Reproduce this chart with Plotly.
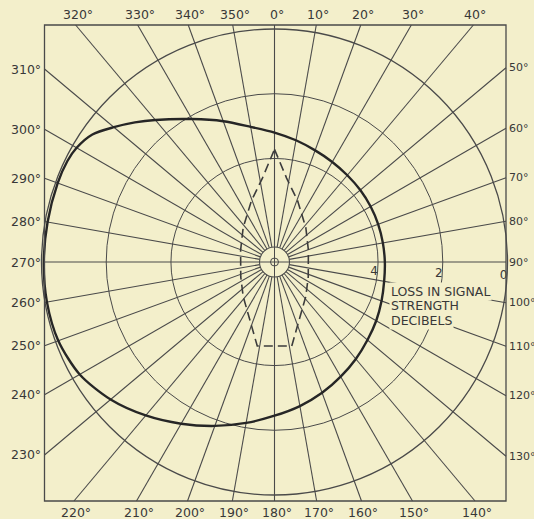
import math
import plotly.graph_objects as go

# ---- chart values -------------------------------------------------------
# spoke bearings, degrees clockwise from north
spoke_bearings = list(range(0, 360, 10))
# loss rings (dB); 0 dB is the outer ring
ring_losses = [4, 2, 0]
# loss that falls on the hub of the chart
centre_loss = 7.2

# measured loss pattern (solid curve)
pattern_bearing = [0, 10, 20, 30, 40, 50, 60, 70, 80, 90, 100, 110, 120, 130,
                   140, 150, 160, 170, 180, 190, 200, 210, 220, 230, 240, 250,
                   260, 270, 280, 290, 296, 300, 305, 310, 315, 320, 330, 340,
                   350, 360]
pattern_loss = [3.20, 3.38, 3.53, 3.63, 3.70, 3.74, 3.77, 3.79, 3.80, 3.79,
                3.76, 3.68, 3.57, 3.45, 3.29, 3.11, 2.90, 2.68, 2.45, 2.15,
                1.81, 1.43, 1.01, 0.59, 0.25, 0.09, 0.06, 0.07, 0.08, 0.07,
                0.08, 0.14, 0.33, 0.72, 1.10, 1.47, 2.10, 2.57, 2.96, 3.20]

# second pattern (dashed outline)
dashed_bearing = [0, 8.2, 20.7, 42.2, 70.6, 113.8, 137.8, 168.4, 191.6,
                  222.2, 246.2, 289.4, 317.8, 339.3, 351.8, 360]
dashed_loss = [3.72, 4.58, 5.18, 5.76, 6.09, 6.06, 5.76, 4.55, 4.55, 5.76,
               6.06, 6.09, 5.76, 5.18, 4.58, 3.72]

caption_lines = ["LOSS IN SIGNAL", "STRENGTH", "DECIBELS"]

# ---- page geometry (pixels) ---------------------------------------------
W, H = 534, 519
CX, CY = 274.5, 262.0          # hub, measured from the top-left corner
R = 233.0                      # radius of the 0 dB ring
HUB_R = 15.0                   # small ring round the hub
DOT_R = 4.0
LEFT, RIGHT, TOP, BOTTOM = -230.0, 231.5, 237.0, -239.0   # frame edges

PAPER = "#f3efcb"
INK = "#383838"
GRID = "#4a4a4a"
FONT = "DejaVu Sans"

fig = go.Figure()

# spokes run from the hub ring out to the frame
sx, sy, labels = [], [], []
for b in spoke_bearings:
    dx, dy = math.sin(math.radians(b)), math.cos(math.radians(b))
    if abs(dx) < 1e-9:
        dx = 0.0
    if abs(dy) < 1e-9:
        dy = 0.0
    cands = []
    if dx > 0:
        cands.append((RIGHT / dx, "right"))
    if dx < 0:
        cands.append((LEFT / dx, "left"))
    if dy > 0:
        cands.append((TOP / dy, "top"))
    if dy < 0:
        cands.append((BOTTOM / dy, "bottom"))
    t, edge = min(cands)
    r0 = 0.0 if b % 90 == 0 else HUB_R
    sx += [r0 * dx, t * dx, None]
    sy += [r0 * dy, t * dy, None]
    labels.append((b, edge, t * dx, t * dy))

fig.add_trace(go.Scatter(x=sx, y=sy, mode="lines",
                         line=dict(color=GRID, width=1.1),
                         hoverinfo="skip", showlegend=False))

# frame
fig.add_shape(type="rect", x0=LEFT, x1=RIGHT, y0=BOTTOM, y1=TOP,
              line=dict(color=GRID, width=1.3), layer="above")
# hub ring and centre dot
fig.add_shape(type="circle", x0=-HUB_R, x1=HUB_R, y0=-HUB_R, y1=HUB_R,
              line=dict(color=GRID, width=1.1), fillcolor=PAPER, layer="above")
fig.add_shape(type="circle", x0=-DOT_R, x1=DOT_R, y0=-DOT_R, y1=DOT_R,
              line=dict(color=GRID, width=1.0), layer="above")
fig.add_shape(type="line", x0=-HUB_R, x1=HUB_R, y0=0, y1=0,
              line=dict(color=GRID, width=1.0), layer="above")
fig.add_shape(type="line", x0=0, x1=0, y0=-HUB_R, y1=HUB_R,
              line=dict(color=GRID, width=1.0), layer="above")

# bearing labels round the frame
for b, edge, ex, ey in labels:
    txt = f"{b}°"
    size = 12.5
    if edge == "top":
        kw = dict(x=ex + 2, y=TOP + 11, xanchor="center", yanchor="middle")
    elif edge == "bottom":
        kw = dict(x=ex + 2, y=BOTTOM - 11, xanchor="center", yanchor="middle")
    elif edge == "right":
        kw = dict(x=RIGHT + 1.5, y=ey, xanchor="left", yanchor="middle")
        size = 11
    else:
        kw = dict(x=LEFT - 2.5, y=ey, xanchor="right", yanchor="middle")
    fig.add_annotation(text=txt, showarrow=False, xref="x", yref="y",
                       borderpad=0,
                       font=dict(family=FONT, size=size, color=INK), **kw)

# polar patterns
fig.add_trace(go.Scatterpolar(
    r=dashed_loss, theta=dashed_bearing, mode="lines",
    line=dict(color="#3c3c3c", width=1.6, dash="9px,5px"),
    hoverinfo="skip", showlegend=False))
fig.add_trace(go.Scatterpolar(
    r=pattern_loss, theta=pattern_bearing, mode="lines",
    line=dict(color="#262626", width=2.4, shape="spline", smoothing=0.8),
    hoverinfo="skip", showlegend=False))
fig.add_trace(go.Scatterpolar(
    r=ring_losses, theta=[92] * len(ring_losses), mode="text",
    text=[str(v) for v in ring_losses], textposition="bottom left",
    textfont=dict(family=FONT, size=12, color=INK),
    hoverinfo="skip", showlegend=False))

# caption, one line per annotation so the leading stays tight
for i, line in enumerate(caption_lines):
    fig.add_annotation(text=line, showarrow=False, xref="x", yref="y",
                       x=389 - CX, y=CY - 291 - 14.5 * i,
                       xanchor="left", yanchor="middle", align="left",
                       bgcolor=PAPER, borderpad=1,
                       font=dict(family=FONT, size=12.5, color=INK))

fig.update_layout(
    width=W, height=H, margin=dict(l=0, r=0, t=0, b=0),
    paper_bgcolor=PAPER, plot_bgcolor="rgba(0,0,0,0)",
    showlegend=False,
    xaxis=dict(range=[-CX, W - CX], domain=[0, 1], visible=False,
               fixedrange=True),
    yaxis=dict(range=[-(H - CY), CY], domain=[0, 1], visible=False,
               fixedrange=True),
    polar=dict(
        domain=dict(x=[(CX - R) / W, (CX + R) / W],
                    y=[((H - CY) - R) / H, ((H - CY) + R) / H]),
        bgcolor="rgba(0,0,0,0)",
        angularaxis=dict(rotation=90, direction="clockwise", showgrid=False,
                         showticklabels=False, ticks="", showline=True,
                         linecolor=GRID, linewidth=1.3),
        radialaxis=dict(range=[centre_loss, 0], tickvals=ring_losses,
                        showticklabels=False, ticks="", showline=False,
                        gridcolor=GRID, gridwidth=1.1),
    ),
)

fig.write_html("out.html")
